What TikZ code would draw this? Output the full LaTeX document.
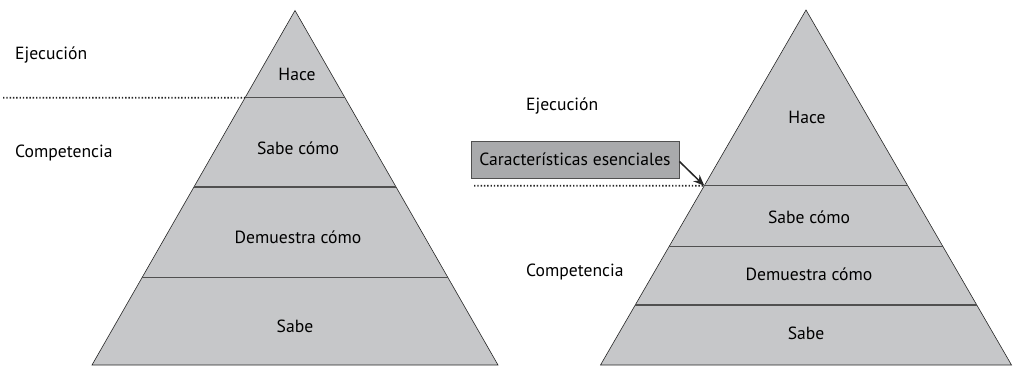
\documentclass[tikz,border=0pt]{standalone}
\usepackage{fontspec}
\setmainfont{PT Sans}
\usetikzlibrary{calc,arrows.meta}
\definecolor{pyrfill}{HTML}{C6C7C9}
\definecolor{boxfill}{HTML}{A9AAAC}
\definecolor{divline}{HTML}{505050}
\begin{document}
\begin{tikzpicture}[x=1pt,y=-1pt,
  pyr/.style={fill=pyrfill,draw=black!85,line width=0.6pt,line join=miter},
  divider/.style={draw=divline,line width=1.1pt},
  dotline/.style={draw=black!85,line width=1.6pt,dash pattern=on 1.4pt off 1.9pt},
  lbl/.style={font=\fontsize{17.6}{20}\selectfont,text=black,inner sep=0pt},
  sidelbl/.style={lbl,anchor=west},
  notebox/.style={lbl,fill=boxfill,draw=divline,line width=0.9pt,minimum width=208pt,minimum height=37pt},
  pointer/.style={draw=black!85,line width=1.5pt,-{Stealth[length=11pt,width=9pt]}}]
\useasboundingbox (0,0) rectangle (1016,365);
% ---------- left pyramid ----------
\coordinate (LA) at (295,10.5);
\coordinate (LBL) at (92,365);
\coordinate (LBR) at (498,365);
\path[pyr] (LA) -- (LBL) -- (LBR) -- cycle;
\coordinate (L1l) at ($(LA)!0.246!(LBL)$);
\coordinate (L1r) at ($(LA)!0.246!(LBR)$);
\coordinate (L2l) at ($(LA)!0.498!(LBL)$);
\coordinate (L2r) at ($(LA)!0.498!(LBR)$);
\coordinate (L3l) at ($(LA)!0.752!(LBL)$);
\coordinate (L3r) at ($(LA)!0.752!(LBR)$);
\draw[divider] (L1l) -- (L1r);
\draw[divider] (L2l) -- (L2r);
\draw[divider] (L3l) -- (L3r);
\coordinate (LD0) at (3,97.7);
\draw[dotline] (LD0) -- (L1l);
\node[lbl] (lhace) at (297,74) {Hace};
\node[lbl] (lsabecomo) at (298,148) {Sabe cómo};
\node[lbl] (ldemuestra) at (298,237) {Demuestra cómo};
\node[lbl] (lsabe) at (295,326) {Sabe};
\node[sidelbl] (lejec) at (15,55) {Ejecución};
\node[sidelbl] (lcomp) at (15,153) {Competencia};
% ---------- right pyramid ----------
\coordinate (RA) at (806,10);
\coordinate (RBL) at (600.5,365);
\coordinate (RBR) at (1011.5,365);
\path[pyr] (RA) -- (RBL) -- (RBR) -- cycle;
\coordinate (R1l) at ($(RA)!0.495!(RBL)$);
\coordinate (R1r) at ($(RA)!0.495!(RBR)$);
\coordinate (R2l) at ($(RA)!0.665!(RBL)$);
\coordinate (R2r) at ($(RA)!0.665!(RBR)$);
\coordinate (R3l) at ($(RA)!0.831!(RBL)$);
\coordinate (R3r) at ($(RA)!0.831!(RBR)$);
\draw[divider] (R1l) -- (R1r);
\draw[divider] (R2l) -- (R2r);
\draw[divider] (R3l) -- (R3r);
\coordinate (RD0) at (474,185.7);
\draw[dotline] (RD0) -- (R1l);
\node[lbl] (rhace) at (807,117) {Hace};
\node[lbl] (rsabecomo) at (809,217) {Sabe cómo};
\node[lbl] (rdemuestra) at (809,274) {Demuestra cómo};
\node[lbl] (rsabe) at (806,333) {Sabe};
\node[sidelbl] (rejec) at (526,106) {Ejecución};
\node[sidelbl] (rcomp) at (526,272) {Competencia};
\node[notebox] (note) at (575,159.5) {Características esenciales};
\draw[pointer] (note.east) ++(0,2) coordinate (ps) (ps) -- (R1l);
\end{tikzpicture}
\end{document}
